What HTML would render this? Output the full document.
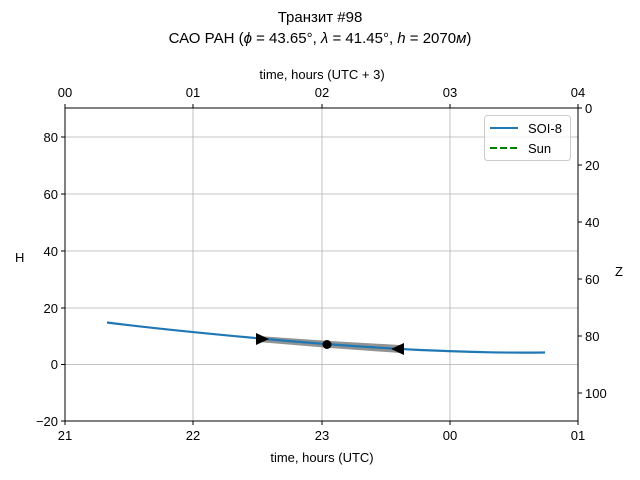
<!DOCTYPE html>
<html><head><style>body{margin:0;background:#fff}svg{display:block}text{font-family:"Liberation Sans","DejaVu Sans",sans-serif;font-size:13px;fill:#000}</style></head><body>
<svg width="640" height="480" viewBox="0 0 640 480">
<rect width="640" height="480" fill="#fff"/>
<text x="320" y="22" text-anchor="middle" font-size="15" style="font-size:15px">Транзит #98</text>
<text x="320" y="43" text-anchor="middle" style="font-size:15px">САО РАН (<tspan font-style="italic">ϕ</tspan> = 43.65°, <tspan font-style="italic">λ</tspan> = 41.45°, <tspan font-style="italic">h</tspan> = 2070<tspan font-style="italic">м</tspan>)</text>
<g stroke="#b0b0b0" stroke-width="0.8">
<line x1="193" y1="108" x2="193" y2="421"/><line x1="322" y1="108" x2="322" y2="421"/><line x1="450" y1="108" x2="450" y2="421"/>
<line x1="65" y1="137" x2="578" y2="137"/><line x1="65" y1="194" x2="578" y2="194"/><line x1="65" y1="251" x2="578" y2="251"/><line x1="65" y1="308" x2="578" y2="308"/><line x1="65" y1="364.5" x2="578" y2="364.5"/>
</g>
<path d="M258,336 L330,341 L400,345 L400,353 L330,348 L258,342 Z" fill="#808080" opacity="0.85"/>
<path d="M107,322.5 C150,328 200,333 260,338.5 C320,344 380,348 420,350 C470,352 500,353 545,352.5" fill="none" stroke="#1f77b4" stroke-width="2.2"/>
<polygon points="256,333 269,339 256,345" fill="#000"/>
<polygon points="404,343 391,349 404,355" fill="#000"/>
<circle cx="327" cy="344.5" r="4.5" fill="#000"/>
<rect x="65" y="108" width="513" height="313" fill="none" stroke="#000" stroke-width="1"/>
<g stroke="#000">
<line x1="65" y1="421" x2="65" y2="425"/><line x1="193" y1="421" x2="193" y2="425"/><line x1="322" y1="421" x2="322" y2="425"/><line x1="450" y1="421" x2="450" y2="425"/><line x1="578" y1="421" x2="578" y2="425"/>
<line x1="65" y1="108" x2="65" y2="104"/><line x1="193" y1="108" x2="193" y2="104"/><line x1="322" y1="108" x2="322" y2="104"/><line x1="450" y1="108" x2="450" y2="104"/><line x1="578" y1="108" x2="578" y2="104"/>
<line x1="61" y1="137" x2="65" y2="137"/><line x1="61" y1="194" x2="65" y2="194"/><line x1="61" y1="251" x2="65" y2="251"/><line x1="61" y1="308" x2="65" y2="308"/><line x1="61" y1="364.5" x2="65" y2="364.5"/><line x1="61" y1="421" x2="65" y2="421"/>
<line x1="578" y1="108" x2="582" y2="108"/><line x1="578" y1="165" x2="582" y2="165"/><line x1="578" y1="222" x2="582" y2="222"/><line x1="578" y1="279" x2="582" y2="279"/><line x1="578" y1="336" x2="582" y2="336"/><line x1="578" y1="393" x2="582" y2="393"/>
</g>
<g text-anchor="middle">
<text x="65" y="440">21</text><text x="193" y="440">22</text><text x="322" y="440">23</text><text x="450" y="440">00</text><text x="578" y="440">01</text>
<text x="65" y="97">00</text><text x="193" y="97">01</text><text x="322" y="97">02</text><text x="450" y="97">03</text><text x="578" y="97">04</text>
<text x="322" y="462">time, hours (UTC)</text>
<text x="322" y="79">time, hours (UTC + 3)</text>
</g>
<g text-anchor="end">
<text x="58" y="142">80</text><text x="58" y="199">60</text><text x="58" y="256">40</text><text x="58" y="313">20</text><text x="58" y="369">0</text><text x="58" y="426">−20</text>
</g>
<g>
<text x="585" y="113">0</text><text x="585" y="170">20</text><text x="585" y="227">40</text><text x="585" y="284">60</text><text x="585" y="341">80</text><text x="585" y="398">100</text>
</g>
<text x="15" y="262">H</text>
<text x="615" y="276">Z</text>
<rect x="484.5" y="115.5" width="86" height="45" rx="3" fill="#fff" fill-opacity="0.8" stroke="#ccc"/>
<line x1="490" y1="128" x2="518" y2="128" stroke="#1f77b4" stroke-width="2"/>
<text x="528" y="133">SOI-8</text>
<line x1="490" y1="148" x2="518" y2="148" stroke="#008000" stroke-width="2" stroke-dasharray="7,3"/>
<text x="528" y="153">Sun</text>
</svg>
</body></html>
